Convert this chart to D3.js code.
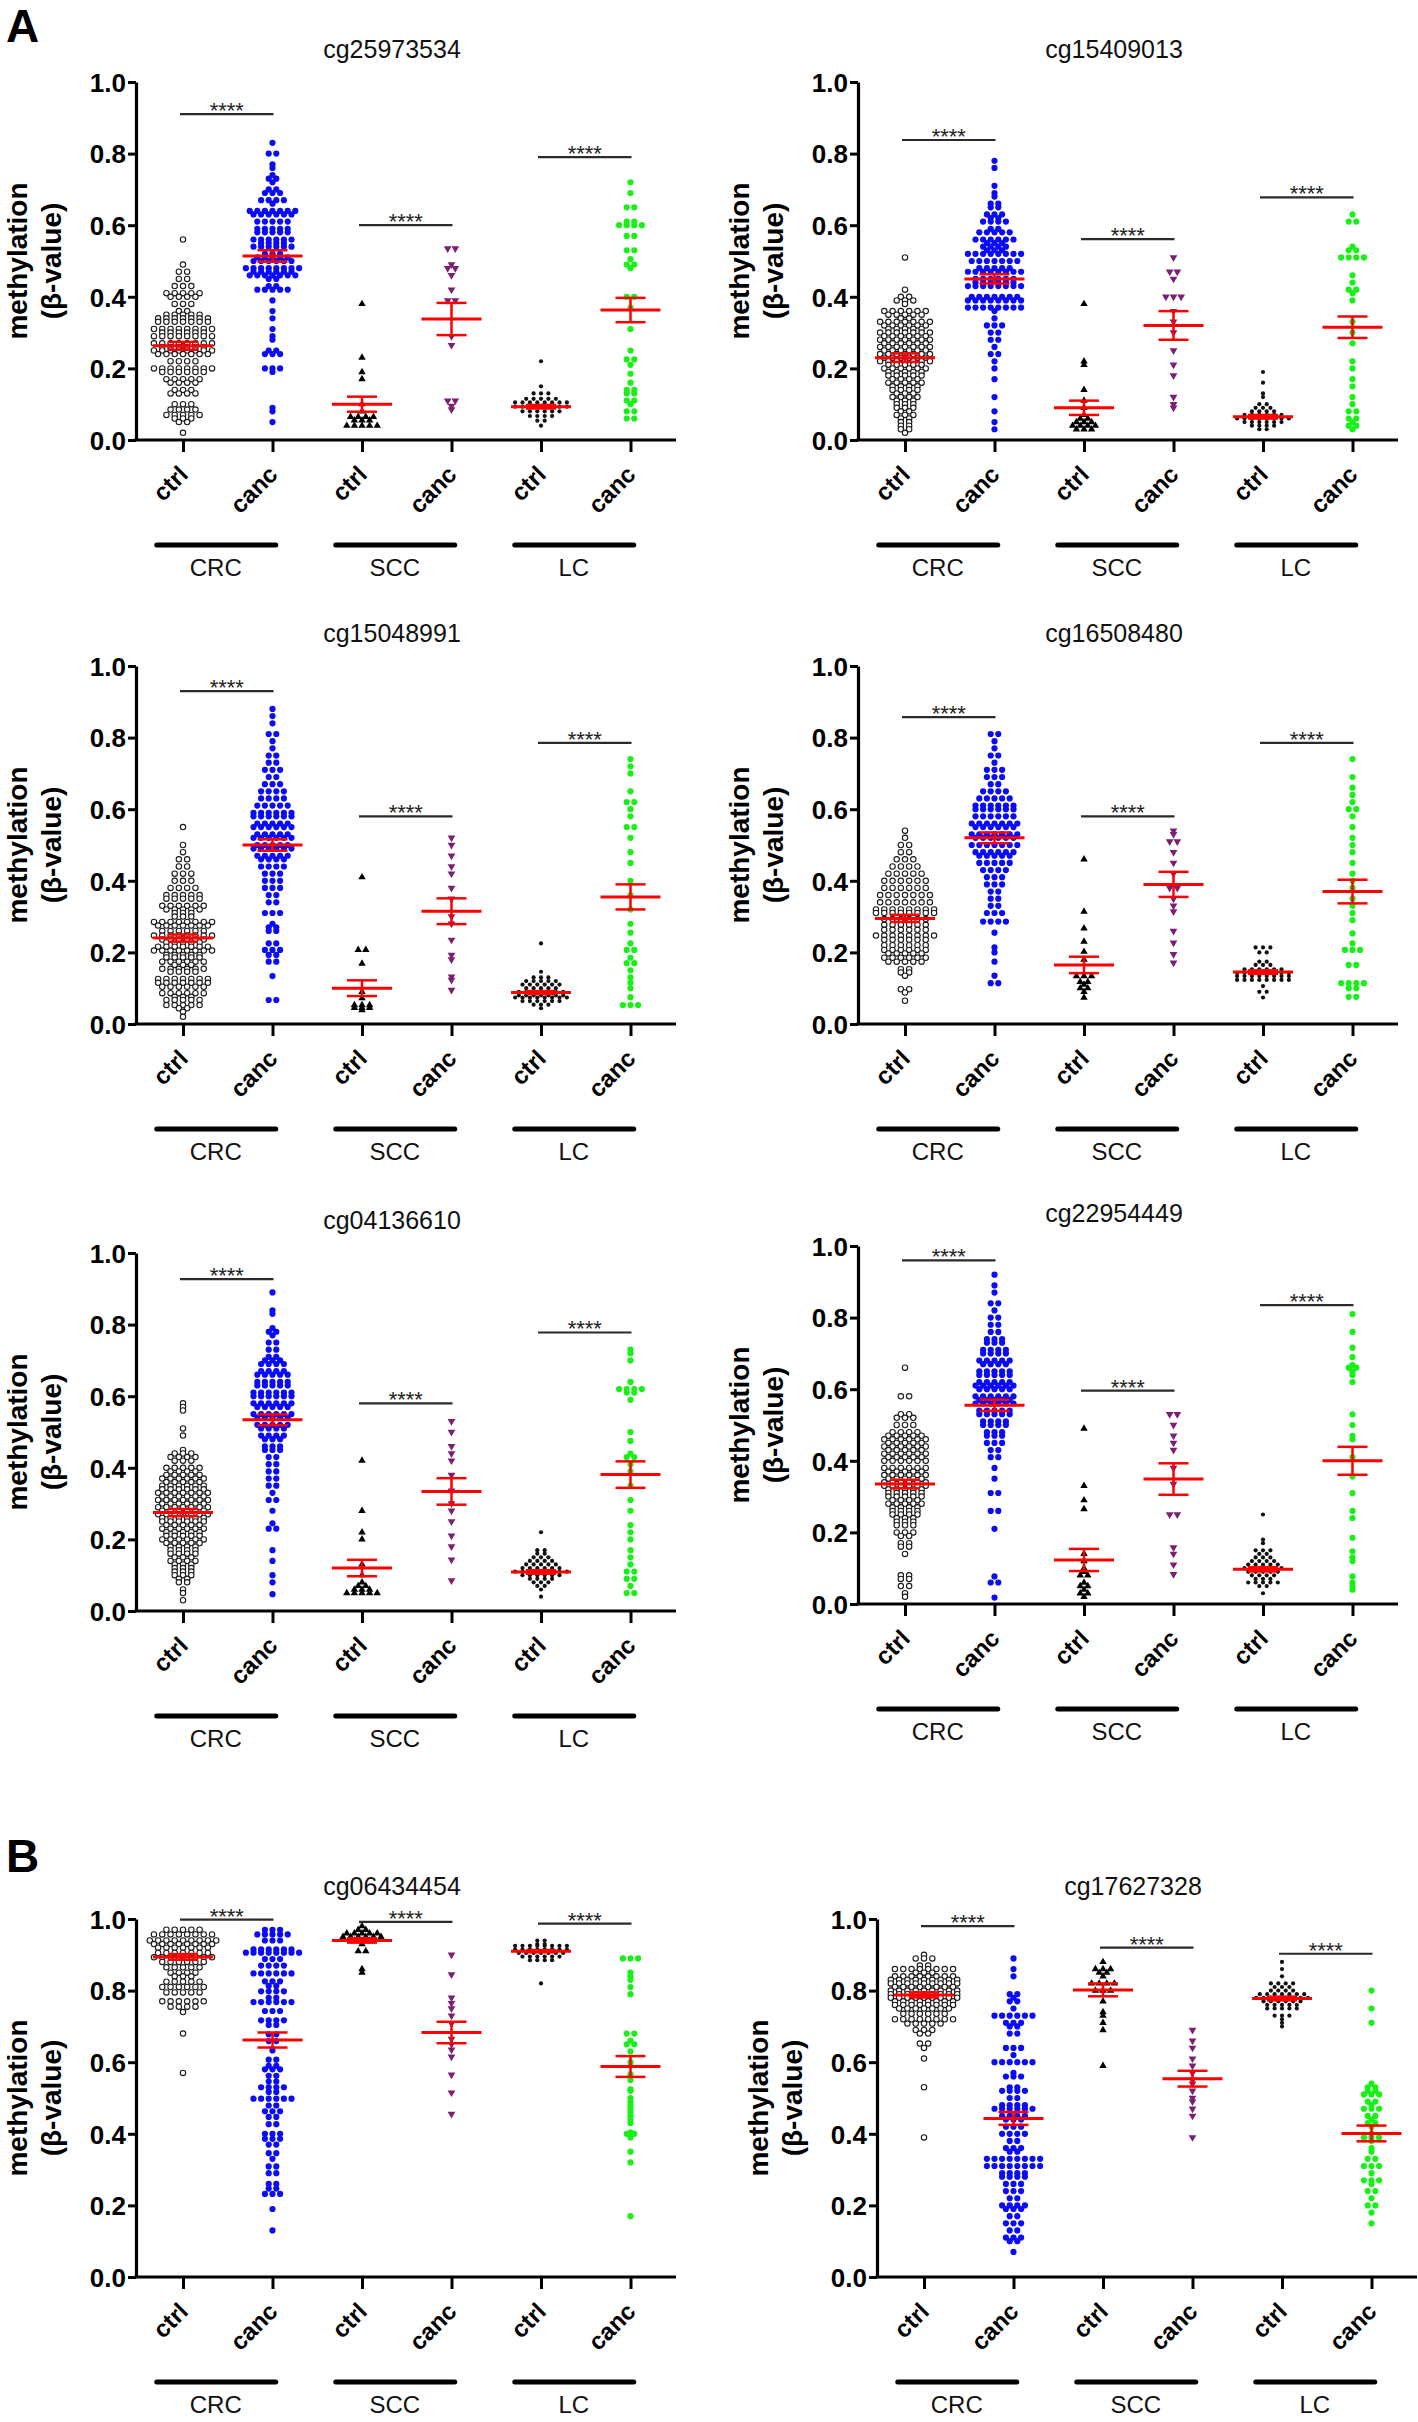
<!DOCTYPE html>
<html><head><meta charset="utf-8">
<script src="https://cdn.jsdelivr.net/npm/d3@7"></script>
<style>body{margin:0;background:#fff}svg{display:block}</style>
</head><body>
<svg id="fig" width="1418" height="2422"></svg>
<script>
// ---------------- DATA ----------------
const categories = ["ctrl","canc","ctrl","canc","ctrl","canc"];
const groupNames = ["CRC","SCC","LC"];
const yTicks = [0,0.2,0.4,0.6,0.8,1.0];
const panelTitles = ["cg25973534","cg15409013","cg15048991","cg16508480","cg04136610","cg22954449","cg06434454","cg17627328"];
const sectionLabels = ["A","B"];
const sigText = "****";
const yLabel1 = "methylation", yLabel2 = "(β-value)";

// significance bar level (beta) per panel: CRC, SCC, LC
const sigLevels = [
  [0.91,0.60,0.79],[0.838,0.561,0.678],[0.93,0.58,0.785],[0.857,0.58,0.785],
  [0.927,0.58,0.778],[0.96,0.596,0.835],[0.998,0.992,0.987],[0.98,0.92,0.903]
];
// group means and SEMs per panel (ctrl,canc,ctrl,canc,ctrl,canc)
const means = [
  [0.263,0.514,0.10,0.338,0.093,0.363],[0.23,0.45,0.09,0.32,0.065,0.315],
  [0.24,0.50,0.10,0.315,0.088,0.355],[0.295,0.52,0.165,0.39,0.145,0.37],
  [0.275,0.534,0.12,0.334,0.109,0.381],[0.335,0.555,0.123,0.349,0.097,0.40],
  [0.894,0.662,0.94,0.683,0.91,0.588],[0.788,0.443,0.802,0.554,0.778,0.401]
];
const sems = [
  [0.011,0.016,0.021,0.045,0.005,0.034],[0.012,0.013,0.02,0.04,0.005,0.03],
  [0.01,0.016,0.022,0.036,0.004,0.035],[0.01,0.015,0.023,0.035,0.005,0.033],
  [0.01,0.015,0.023,0.037,0.005,0.037],[0.012,0.016,0.031,0.044,0.006,0.039],
  [0.008,0.021,0.006,0.03,0.003,0.029],[0.007,0.018,0.018,0.022,0.005,0.022]
];

// points: each group is a list of [beta value, number of samples at that value]
const dots_cg25973534 = [
 [[0.56,1],[0.49,1],[0.47,2],[0.45,2],[0.43,3],[0.41,5],[0.40,4],[0.38,3],[0.36,2],[0.35,5],[0.34,7],[0.33,7],[0.31,8],[0.30,6],[0.29,8],[0.27,8],[0.26,6],[0.25,8],[0.24,7],[0.22,4],[0.20,8],[0.19,6],[0.17,5],[0.16,4],[0.14,3],[0.13,4],[0.10,3],[0.085,4],[0.07,5],[0.06,3],[0.05,2],[0.02,1]],
 [[0.83,1],[0.80,2],[0.77,1],[0.76,1],[0.74,1],[0.73,2],[0.72,1],[0.70,2],[0.69,3],[0.67,4],[0.66,1],[0.64,7],[0.63,6],[0.61,5],[0.59,5],[0.58,5],[0.56,6],[0.55,4],[0.54,6],[0.52,3],[0.51,5],[0.50,6],[0.48,8],[0.47,6],[0.46,7],[0.45,2],[0.43,2],[0.42,5],[0.39,1],[0.36,1],[0.34,1],[0.31,1],[0.29,1],[0.28,1],[0.25,2],[0.24,3],[0.20,3],[0.19,1],[0.09,1],[0.08,1],[0.05,1]],
 [[0.38,1],[0.23,1],[0.19,1],[0.17,1],[0.10,1],[0.08,1],[0.065,4],[0.055,3],[0.04,5]],
 [[0.535,2],[0.49,1],[0.48,2],[0.46,1],[0.42,1],[0.39,2],[0.29,1],[0.265,1],[0.11,2],[0.095,1],[0.085,1]],
 [[0.22,1],[0.15,1],[0.13,3],[0.115,5],[0.105,8],[0.093,8],[0.08,6],[0.067,4],[0.054,2],[0.04,1]],
 [[0.72,1],[0.69,1],[0.65,2],[0.61,2],[0.60,4],[0.57,2],[0.53,2],[0.505,1],[0.49,2],[0.48,1],[0.40,2],[0.37,1],[0.31,1],[0.25,1],[0.225,2],[0.21,1],[0.185,1],[0.16,1],[0.14,2],[0.13,2],[0.11,2],[0.10,1],[0.08,2],[0.06,2]]
];
const dots_cg15409013 = [
 [[0.51,1],[0.42,1],[0.40,2],[0.39,3],[0.38,1],[0.36,6],[0.35,5],[0.34,2],[0.33,7],[0.32,6],[0.31,5],[0.30,7],[0.29,6],[0.28,7],[0.27,6],[0.26,7],[0.25,6],[0.24,7],[0.23,6],[0.22,7],[0.21,5],[0.20,6],[0.19,5],[0.18,5],[0.17,4],[0.16,5],[0.15,4],[0.14,4],[0.13,3],[0.12,4],[0.11,3],[0.10,3],[0.09,3],[0.08,2],[0.07,3],[0.06,2],[0.05,2],[0.04,2],[0.03,2],[0.02,1]],
 [[0.78,1],[0.76,1],[0.71,1],[0.69,1],[0.68,1],[0.66,2],[0.65,2],[0.63,3],[0.62,2],[0.61,4],[0.59,2],[0.58,5],[0.56,6],[0.55,3],[0.54,4],[0.53,3],[0.52,8],[0.50,7],[0.48,5],[0.47,8],[0.45,6],[0.44,6],[0.43,8],[0.40,7],[0.39,8],[0.37,8],[0.36,1],[0.34,1],[0.32,3],[0.30,2],[0.28,2],[0.26,1],[0.24,2],[0.22,1],[0.20,1],[0.17,1],[0.12,1],[0.08,1],[0.05,1],[0.03,1]],
 [[0.38,1],[0.22,1],[0.21,1],[0.14,1],[0.11,1],[0.09,1],[0.07,1],[0.06,2],[0.05,3],[0.04,4],[0.03,3]],
 [[0.51,1],[0.47,2],[0.45,1],[0.40,3],[0.36,1],[0.33,1],[0.30,1],[0.25,1],[0.21,1],[0.18,1],[0.12,1],[0.10,1],[0.09,1]],
 [[0.19,1],[0.16,1],[0.13,1],[0.12,1],[0.10,2],[0.09,3],[0.08,4],[0.07,6],[0.06,8],[0.05,6],[0.04,4],[0.03,2]],
 [[0.63,1],[0.61,2],[0.54,1],[0.53,2],[0.51,4],[0.46,1],[0.44,1],[0.42,2],[0.41,1],[0.39,1],[0.33,1],[0.30,1],[0.27,1],[0.22,1],[0.20,1],[0.17,1],[0.15,1],[0.12,1],[0.10,1],[0.08,2],[0.06,2],[0.05,1],[0.04,2],[0.03,1]]
];
const dots_cg15048991 = [
 [[0.55,1],[0.50,1],[0.48,1],[0.46,2],[0.44,2],[0.42,3],[0.40,3],[0.38,4],[0.36,5],[0.35,5],[0.33,6],[0.32,5],[0.31,3],[0.30,3],[0.285,8],[0.275,7],[0.26,6],[0.247,8],[0.236,6],[0.228,5],[0.216,7],[0.205,8],[0.193,5],[0.186,5],[0.174,6],[0.165,3],[0.154,6],[0.146,4],[0.126,7],[0.115,7],[0.104,6],[0.086,6],[0.076,3],[0.067,5],[0.053,5],[0.044,2],[0.034,1],[0.02,1]],
 [[0.88,1],[0.86,1],[0.84,1],[0.81,2],[0.79,1],[0.77,1],[0.75,2],[0.73,2],[0.71,3],[0.69,2],[0.67,3],[0.65,4],[0.63,4],[0.61,5],[0.59,6],[0.58,6],[0.56,5],[0.55,6],[0.53,5],[0.52,6],[0.50,5],[0.49,6],[0.47,5],[0.46,4],[0.44,4],[0.42,3],[0.40,3],[0.38,3],[0.36,2],[0.34,2],[0.31,3],[0.28,1],[0.27,2],[0.26,2],[0.225,2],[0.207,3],[0.193,2],[0.174,2],[0.134,1],[0.067,2]],
 [[0.41,1],[0.207,2],[0.169,1],[0.09,1],[0.072,1],[0.053,3],[0.045,3],[0.039,1]],
 [[0.52,1],[0.50,1],[0.47,1],[0.44,1],[0.42,1],[0.38,1],[0.35,1],[0.30,1],[0.28,1],[0.235,1],[0.193,1],[0.18,1],[0.132,1],[0.123,1],[0.095,1]],
 [[0.225,1],[0.146,1],[0.13,3],[0.12,5],[0.11,6],[0.10,5],[0.09,7],[0.08,7],[0.074,8],[0.064,6],[0.054,3],[0.044,1]],
 [[0.74,1],[0.72,1],[0.70,1],[0.65,1],[0.62,2],[0.60,1],[0.58,1],[0.55,2],[0.52,1],[0.48,1],[0.45,1],[0.40,1],[0.36,1],[0.32,1],[0.28,1],[0.255,1],[0.225,1],[0.207,2],[0.185,1],[0.17,2],[0.15,1],[0.13,1],[0.115,1],[0.10,1],[0.075,1],[0.053,3]]
];
const dots_cg16508480 = [
 [[0.54,1],[0.52,1],[0.50,2],[0.48,2],[0.46,3],[0.44,4],[0.42,5],[0.40,6],[0.38,6],[0.36,7],[0.34,7],[0.32,8],[0.31,8],[0.293,6],[0.277,6],[0.263,6],[0.247,8],[0.235,6],[0.22,6],[0.207,6],[0.197,5],[0.185,6],[0.174,5],[0.153,2],[0.144,2],[0.135,1],[0.097,2],[0.088,1],[0.065,1]],
 [[0.81,2],[0.79,1],[0.77,1],[0.75,2],[0.73,1],[0.71,3],[0.69,3],[0.67,2],[0.65,4],[0.63,5],[0.61,6],[0.60,6],[0.58,6],[0.56,7],[0.55,6],[0.53,7],[0.52,6],[0.50,7],[0.48,6],[0.47,5],[0.45,5],[0.43,4],[0.41,3],[0.39,3],[0.37,2],[0.35,2],[0.33,2],[0.31,3],[0.286,4],[0.255,1],[0.214,1],[0.20,1],[0.174,1],[0.135,1],[0.114,2]],
 [[0.46,1],[0.314,1],[0.267,1],[0.23,1],[0.202,1],[0.18,1],[0.134,3],[0.118,2],[0.11,1],[0.10,2],[0.09,1],[0.074,1]],
 [[0.54,1],[0.53,1],[0.51,2],[0.48,1],[0.45,1],[0.42,1],[0.38,2],[0.35,1],[0.33,1],[0.314,1],[0.26,1],[0.227,1],[0.195,1],[0.171,1]],
 [[0.214,3],[0.20,2],[0.174,2],[0.165,3],[0.153,6],[0.143,8],[0.134,8],[0.123,8],[0.106,1],[0.09,2],[0.074,1]],
 [[0.74,1],[0.69,1],[0.66,1],[0.64,1],[0.62,1],[0.60,2],[0.58,1],[0.55,1],[0.52,1],[0.50,1],[0.48,1],[0.45,1],[0.42,1],[0.40,1],[0.38,1],[0.35,1],[0.33,1],[0.31,1],[0.29,1],[0.253,1],[0.225,1],[0.207,3],[0.165,2],[0.114,4],[0.10,2],[0.076,2]]
];
const dots_cg04136610 = [
 [[0.58,1],[0.57,1],[0.56,1],[0.51,1],[0.49,1],[0.45,1],[0.44,3],[0.43,4],[0.42,3],[0.40,5],[0.39,4],[0.38,5],[0.37,6],[0.36,5],[0.35,6],[0.34,6],[0.33,7],[0.32,6],[0.31,7],[0.30,6],[0.29,7],[0.28,6],[0.27,7],[0.26,6],[0.25,6],[0.24,5],[0.23,6],[0.22,5],[0.21,5],[0.20,6],[0.19,5],[0.18,4],[0.17,4],[0.16,4],[0.15,3],[0.14,4],[0.13,3],[0.12,3],[0.11,3],[0.10,3],[0.09,2],[0.08,2],[0.06,1],[0.05,1],[0.03,1]],
 [[0.89,1],[0.84,1],[0.83,1],[0.79,1],[0.78,2],[0.77,1],[0.75,2],[0.73,2],[0.71,2],[0.70,3],[0.69,4],[0.67,4],[0.66,5],[0.64,5],[0.63,5],[0.61,6],[0.60,6],[0.58,6],[0.57,5],[0.55,6],[0.54,5],[0.52,5],[0.51,4],[0.49,4],[0.48,3],[0.46,3],[0.45,3],[0.43,2],[0.41,2],[0.39,2],[0.37,2],[0.35,2],[0.33,1],[0.31,2],[0.28,1],[0.245,1],[0.23,2],[0.17,1],[0.14,1],[0.10,1],[0.08,1],[0.047,1]],
 [[0.42,1],[0.28,1],[0.22,1],[0.20,1],[0.13,1],[0.10,1],[0.08,1],[0.07,2],[0.06,3],[0.05,5]],
 [[0.53,1],[0.50,1],[0.46,1],[0.44,1],[0.42,1],[0.38,1],[0.336,1],[0.30,1],[0.28,1],[0.25,1],[0.21,1],[0.18,1],[0.143,1],[0.085,1]],
 [[0.22,1],[0.17,2],[0.16,2],[0.15,3],[0.14,4],[0.13,5],[0.12,6],[0.11,8],[0.10,6],[0.09,4],[0.08,3],[0.07,2],[0.06,1],[0.04,1]],
 [[0.73,1],[0.72,1],[0.70,1],[0.64,1],[0.62,4],[0.61,2],[0.59,1],[0.50,1],[0.475,1],[0.44,1],[0.43,2],[0.41,1],[0.39,1],[0.35,1],[0.31,1],[0.28,1],[0.24,1],[0.22,1],[0.20,1],[0.17,1],[0.15,1],[0.13,1],[0.11,2],[0.09,2],[0.07,1],[0.05,2]]
];
const dots_cg22954449 = [
 [[0.66,1],[0.58,2],[0.53,2],[0.52,3],[0.50,3],[0.48,4],[0.47,5],[0.46,6],[0.45,5],[0.44,6],[0.43,5],[0.42,6],[0.41,5],[0.40,6],[0.38,6],[0.37,5],[0.36,6],[0.35,5],[0.34,6],[0.33,6],[0.32,5],[0.31,5],[0.30,5],[0.29,4],[0.28,5],[0.27,4],[0.26,4],[0.25,4],[0.24,3],[0.23,3],[0.22,3],[0.20,3],[0.19,2],[0.17,2],[0.16,2],[0.14,1],[0.08,2],[0.07,2],[0.05,2],[0.03,1],[0.02,1]],
 [[0.92,1],[0.89,1],[0.87,1],[0.84,2],[0.82,1],[0.80,2],[0.78,2],[0.76,2],[0.74,3],[0.73,3],[0.71,4],[0.70,4],[0.68,5],[0.67,4],[0.65,5],[0.64,5],[0.62,5],[0.61,6],[0.60,5],[0.58,6],[0.57,5],[0.56,6],[0.54,5],[0.53,5],[0.51,4],[0.50,4],[0.48,3],[0.47,3],[0.45,3],[0.43,2],[0.41,2],[0.38,1],[0.35,1],[0.31,2],[0.26,2],[0.21,1],[0.077,1],[0.06,2],[0.018,1]],
 [[0.49,1],[0.33,1],[0.29,1],[0.265,1],[0.14,1],[0.12,1],[0.10,1],[0.09,1],[0.08,2],[0.06,1],[0.05,2],[0.04,1],[0.03,2],[0.02,1]],
 [[0.53,2],[0.50,1],[0.47,1],[0.45,1],[0.43,1],[0.38,1],[0.335,1],[0.25,2],[0.158,1],[0.14,1],[0.11,1],[0.083,1]],
 [[0.25,1],[0.18,1],[0.17,1],[0.15,3],[0.14,2],[0.13,3],[0.12,4],[0.11,5],[0.10,6],[0.09,5],[0.08,4],[0.07,3],[0.06,5],[0.05,2],[0.03,1]],
 [[0.81,1],[0.76,1],[0.716,1],[0.69,1],[0.667,1],[0.66,2],[0.65,1],[0.64,1],[0.62,1],[0.53,1],[0.50,1],[0.47,1],[0.46,1],[0.41,1],[0.356,1],[0.31,1],[0.26,1],[0.24,1],[0.185,1],[0.147,1],[0.13,1],[0.12,1],[0.077,1],[0.06,1],[0.05,1],[0.04,1]]
];
const dots_cg06434454 = [
 [[0.97,5],[0.957,8],[0.94,9],[0.93,8],[0.92,7],[0.905,7],[0.893,8],[0.88,6],[0.865,5],[0.85,4],[0.84,3],[0.825,5],[0.81,6],[0.795,5],[0.77,6],[0.755,4],[0.74,1],[0.68,1],[0.57,1]],
 [[0.97,3],[0.957,5],[0.94,3],[0.915,6],[0.906,8],[0.888,3],[0.87,4],[0.848,6],[0.826,3],[0.813,2],[0.798,4],[0.78,2],[0.768,6],[0.743,3],[0.717,4],[0.704,2],[0.678,2],[0.659,2],[0.633,1],[0.607,2],[0.59,2],[0.58,3],[0.562,2],[0.546,2],[0.53,4],[0.517,2],[0.498,6],[0.479,2],[0.463,3],[0.447,2],[0.427,2],[0.40,3],[0.386,3],[0.37,2],[0.346,2],[0.33,1],[0.309,2],[0.29,2],[0.26,2],[0.247,2],[0.232,3],[0.19,1],[0.13,1]],
 [[0.98,1],[0.97,2],[0.96,5],[0.95,6],[0.94,3],[0.93,1],[0.91,2],[0.86,1],[0.85,1]],
 [[0.90,1],[0.845,1],[0.78,1],[0.765,1],[0.75,1],[0.73,1],[0.708,1],[0.665,1],[0.65,1],[0.635,1],[0.615,1],[0.565,1],[0.515,1],[0.455,1]],
 [[0.94,2],[0.93,2],[0.925,8],[0.915,8],[0.905,7],[0.895,6],[0.885,4],[0.82,1]],
 [[0.89,3],[0.85,1],[0.84,1],[0.83,1],[0.81,1],[0.79,1],[0.68,2],[0.66,1],[0.65,2],[0.63,1],[0.60,1],[0.59,1],[0.566,1],[0.55,1],[0.524,1],[0.52,1],[0.50,1],[0.49,1],[0.48,1],[0.47,1],[0.46,1],[0.45,1],[0.44,1],[0.43,1],[0.404,1],[0.40,2],[0.39,1],[0.35,1],[0.32,1],[0.17,1]]
];
const dots_cg17627328 = [
 [[0.90,1],[0.89,3],[0.87,2],[0.86,8],[0.85,3],[0.84,8],[0.83,9],[0.82,9],[0.81,8],[0.80,9],[0.79,9],[0.78,9],[0.77,8],[0.76,8],[0.75,7],[0.735,6],[0.72,8],[0.708,5],[0.69,3],[0.68,2],[0.652,2],[0.64,1],[0.61,1],[0.53,1],[0.39,1]],
 [[0.89,1],[0.86,1],[0.84,1],[0.79,2],[0.78,1],[0.77,2],[0.75,1],[0.73,6],[0.71,3],[0.70,2],[0.68,2],[0.64,3],[0.62,1],[0.60,6],[0.57,1],[0.56,3],[0.53,2],[0.52,4],[0.50,2],[0.48,4],[0.47,6],[0.45,4],[0.44,3],[0.42,3],[0.40,4],[0.38,2],[0.36,3],[0.35,2],[0.33,8],[0.31,8],[0.29,4],[0.28,4],[0.26,3],[0.24,3],[0.22,2],[0.20,4],[0.19,3],[0.17,2],[0.15,3],[0.13,2],[0.11,3],[0.10,2],[0.07,1]],
 [[0.88,1],[0.86,3],[0.85,2],[0.84,1],[0.82,4],[0.80,3],[0.77,1],[0.74,1],[0.73,1],[0.71,1],[0.69,1],[0.59,1]],
 [[0.69,1],[0.66,1],[0.64,1],[0.61,1],[0.59,1],[0.57,1],[0.55,1],[0.54,1],[0.52,1],[0.50,1],[0.49,1],[0.47,1],[0.45,1],[0.39,1]],
 [[0.88,1],[0.86,1],[0.84,1],[0.82,4],[0.81,3],[0.80,4],[0.79,7],[0.78,8],[0.77,6],[0.76,5],[0.75,5],[0.73,3],[0.72,1],[0.71,1],[0.70,1]],
 [[0.80,1],[0.75,1],[0.71,1],[0.54,1],[0.53,2],[0.52,2],[0.51,3],[0.49,2],[0.48,1],[0.47,3],[0.45,2],[0.44,1],[0.43,2],[0.42,1],[0.40,1],[0.39,3],[0.38,1],[0.36,1],[0.35,1],[0.33,2],[0.31,3],[0.29,1],[0.27,3],[0.26,1],[0.24,2],[0.22,1],[0.20,2],[0.18,1],[0.15,1]]
];
const panelDots = [dots_cg25973534, dots_cg15409013, dots_cg15048991, dots_cg16508480,
                   dots_cg04136610, dots_cg22954449, dots_cg06434454, dots_cg17627328];

// ---------------- LAYOUT / STYLE ----------------
const FONT = "'Liberation Sans', Arial, Helvetica, sans-serif";
const layout = [
  {ax:136, top:82}, {ax:858, top:82},
  {ax:136, top:666}, {ax:858, top:666},
  {ax:136, top:1253}, {ax:858, top:1246},
  {ax:136, top:1919}, {ax:877, top:1919}
];
const PH = 358, PW = 540, FIRST = 47, STEP = 89.5;
const markers = [
  {type:"open",  fill:"#fff",    stroke:"#1a1a1a", r:2.7, gap:8.3},
  {type:"circle",fill:"#0b0bf5", r:3.1, gap:7.6},
  {type:"triUp", fill:"#000",    size:24, gap:7.6},
  {type:"triDn", fill:"#7b1f72", size:26, gap:7.6},
  {type:"circle",fill:"#111",    r:2.1, gap:7.4},
  {type:"circle",fill:"#18f018", r:3.1, gap:7.6}
];

const svg = d3.select("#fig");
svg.append("rect").attr("width",1418).attr("height",2422).attr("fill","#fff");

// section letters
const letterPos = [{x:6,y:42},{x:6,y:1872}];
sectionLabels.forEach((t,i)=>{
  svg.append("text").attr("x",letterPos[i].x).attr("y",letterPos[i].y)
    .attr("font-family",FONT).attr("font-weight","bold").attr("font-size",46).text(t);
});

panelTitles.forEach((title,p)=>{
  const L = layout[p];
  const g = svg.append("g");
  const y = d3.scaleLinear().domain([0,1]).range([L.top+PH, L.top]);
  const x = d3.scalePoint().domain(d3.range(categories.length))
              .range([L.ax+FIRST, L.ax+FIRST+STEP*(categories.length-1)]);
  const axisY = L.top+PH;

  // title
  g.append("text").attr("x",L.ax+256).attr("y",L.top-24).attr("text-anchor","middle")
    .attr("font-family",FONT).attr("font-size",25).attr("fill","#111").text(title);

  // y label
  const ymid = L.top+PH/2;
  g.append("text").attr("transform",`translate(${L.ax-109},${ymid}) rotate(-90)`)
    .attr("text-anchor","middle").attr("font-family",FONT).attr("font-weight","bold")
    .attr("font-size",28).text(yLabel1);
  g.append("text").attr("transform",`translate(${L.ax-75},${ymid}) rotate(-90)`)
    .attr("text-anchor","middle").attr("font-family",FONT).attr("font-weight","bold")
    .attr("font-size",28).text(yLabel2);

  // dots
  const dg = g.append("g");
  panelDots[p].forEach((rows,c)=>{
    const m = markers[c];
    rows.forEach(([v,n])=>{
      for(let k=0;k<n;k++){
        const cx = x(c) + (k-(n-1)/2)*m.gap, cy = y(v);
        if(m.type==="open"){
          dg.append("circle").attr("cx",cx).attr("cy",cy).attr("r",m.r)
            .attr("fill",m.fill).attr("stroke",m.stroke).attr("stroke-width",1.1);
        } else if(m.type==="circle"){
          dg.append("circle").attr("cx",cx).attr("cy",cy).attr("r",m.r).attr("fill",m.fill);
        } else {
          const sym = d3.symbol().type(d3.symbolTriangle).size(m.size);
          dg.append("path").attr("d",sym())
            .attr("transform",`translate(${cx},${cy})`+(m.type==="triDn"?" rotate(180)":""))
            .attr("fill",m.fill);
        }
      }
    });
  });

  // mean ± SEM
  const rg = g.append("g").attr("stroke","#ff0000").attr("fill","none");
  means[p].forEach((mu,c)=>{
    const s = sems[p][c], cx = x(c);
    rg.append("line").attr("x1",cx-30).attr("x2",cx+30).attr("y1",y(mu)).attr("y2",y(mu)).attr("stroke-width",3);
    rg.append("line").attr("x1",cx-15).attr("x2",cx+15).attr("y1",y(mu+s)).attr("y2",y(mu+s)).attr("stroke-width",2.5);
    rg.append("line").attr("x1",cx-15).attr("x2",cx+15).attr("y1",y(mu-s)).attr("y2",y(mu-s)).attr("stroke-width",2.5);
    rg.append("line").attr("x1",cx).attr("x2",cx).attr("y1",y(mu+s)).attr("y2",y(mu-s)).attr("stroke-width",2.5);
  });

  // significance bars
  sigLevels[p].forEach((lv,k)=>{
    const x1 = x(2*k)-3, x2 = x(2*k+1)+1;
    g.append("line").attr("x1",x1).attr("x2",x2).attr("y1",y(lv)).attr("y2",y(lv))
      .attr("stroke","#2a2a2a").attr("stroke-width",2.2);
    g.append("text").attr("x",(x1+x2)/2).attr("y",y(lv)+4).attr("text-anchor","middle")
      .attr("font-family",FONT).attr("font-size",22).attr("fill","#222").text(sigText);
  });

  // y axis
  const yAxis = d3.axisLeft(y).tickValues(yTicks).tickFormat(d3.format(".1f"))
                  .tickSize(8).tickSizeOuter(0).tickPadding(2);
  const ya = g.append("g").attr("transform",`translate(${L.ax},0)`).call(yAxis);
  ya.select(".domain").attr("stroke","#000").attr("stroke-width",3.2);
  ya.selectAll(".tick line").attr("stroke","#000").attr("stroke-width",3);
  ya.selectAll(".tick text").attr("font-family",FONT).attr("font-weight","bold")
    .attr("font-size",26).attr("fill","#000").attr("dy","0.36em");

  // x axis
  const xAxis = d3.axisBottom(x).tickSize(12).tickSizeOuter(0).tickFormat(i=>categories[i]);
  const xa = g.append("g").attr("transform",`translate(0,${axisY})`).call(xAxis);
  xa.select(".domain").attr("d",`M${L.ax-1.5},0H${L.ax+PW}`).attr("stroke","#000").attr("stroke-width",3.2);
  xa.selectAll(".tick line").attr("stroke","#000").attr("stroke-width",3);
  xa.selectAll(".tick text").attr("x",0).attr("y",0).attr("dy",0)
    .attr("transform","translate(6,36) rotate(-45)").attr("text-anchor","end")
    .attr("font-family",FONT).attr("font-weight","bold").attr("font-size",24).attr("fill","#000");

  // group bars and names
  groupNames.forEach((gn,k)=>{
    const mid = (x(2*k)+x(2*k+1))/2;
    g.append("line").attr("x1",mid-71).attr("x2",mid+48).attr("y1",axisY+105).attr("y2",axisY+105)
      .attr("stroke","#000").attr("stroke-width",5).attr("stroke-linecap","round");
    g.append("text").attr("x",mid-12).attr("y",axisY+136).attr("text-anchor","middle")
      .attr("font-family",FONT).attr("font-size",24).attr("fill","#111").text(gn);
  });
});
</script>
</body></html>
